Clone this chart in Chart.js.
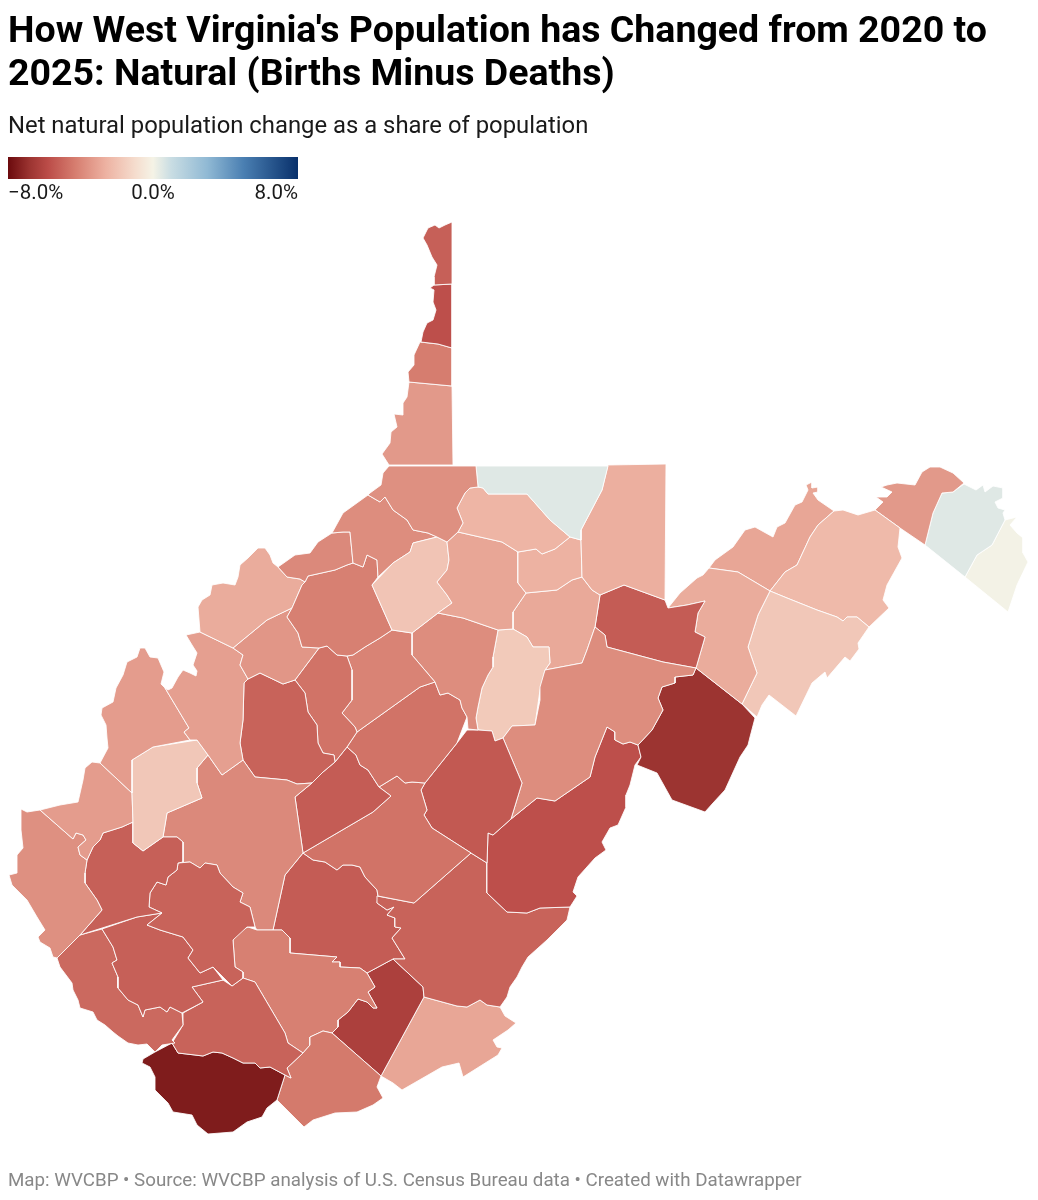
<!DOCTYPE html>
<html>
<head>
<meta charset="utf-8">
<title>West Virginia natural population change</title>
<script src="https://cdn.jsdelivr.net/npm/chart.js@4"></script>
<style>
  html, body { margin: 0; padding: 0; background: #fff; }
  body { position: relative; width: 1038px; height: 1200px; overflow: hidden; font-family: Roboto, sans-serif; }
  #map { position: absolute; left: 0; top: 0; width: 1038px; height: 1200px; }
  #title { position: absolute; left: 8px; top: 8px; margin: 0; width: 1028px; font-size: 37.5px; line-height: 43px; font-weight: 700; color: #000; }
  #subtitle { position: absolute; left: 8px; top: 110px; font-size: 23.85px; line-height: 30px; color: #1a1a1a; }
  #ramp { position: absolute; left: 8px; top: 157px; width: 290px; height: 22px; }
  .tick { position: absolute; top: 180px; font-size: 20.5px; line-height: 24px; color: #1a1a1a; }
  #footer { position: absolute; left: 8px; top: 1168px; font-size: 18.75px; line-height: 24px; color: #888; }
</style>
</head>
<body>
<div id="map"><canvas id="map-canvas"></canvas></div>
<h1 id="title">How West Virginia's Population has Changed from 2020 to<br>2025: Natural (Births Minus Deaths)</h1>
<div id="subtitle">Net natural population change as a share of population</div>
<div id="ramp"></div>
<div class="tick" style="left:8px">−8.0%</div>
<div class="tick" style="left:153px;transform:translateX(-50%)">0.0%</div>
<div class="tick" style="right:740px">8.0%</div>
<div id="footer">Map: WVCBP • Source: WVCBP analysis of U.S. Census Bureau data • Created with Datawrapper</div>
<script>
// county outlines in map units
const hancock = [[452,222],[445,225],[439,228],[435,225],[428,228],[423,238],[427,245],[432,257],[437,265],[434,277],[434,285],[452,284]];
const brooke = [[434,285],[452,284],[452,348],[438,344],[421,342],[423,332],[427,323],[433,320],[436,310],[433,302],[434,290],[430,288]];
const ohio = [[420,342],[438,344],[452,348],[452,386],[409,382],[408,372],[414,365],[414,355]];
const marshall = [[409,382],[452,386],[453,465],[389,465],[382,454],[390,443],[391,432],[397,427],[394,414],[403,415],[403,403],[407,397]];
const wetzel = [[389,466],[476,466],[478,487],[470,488],[465,493],[457,508],[463,523],[458,532],[447,542],[437,537],[428,533],[413,530],[407,520],[393,510],[385,497],[380,502],[368,495],[370,493],[381,485],[383,473]];
const monongalia = [[476,466],[608,466],[602,490],[581,530],[581,540],[570,537],[550,520],[527,494],[488,494],[483,488],[478,487]];
const marion = [[470,488],[478,487],[483,488],[488,494],[527,494],[550,520],[570,537],[555,549],[542,554],[536,549],[518,552],[502,542],[458,532],[463,523],[457,508],[465,493]];
const preston = [[608,465],[666,464],[665,600],[624,585],[600,595],[592,590],[582,577],[581,540],[581,530],[602,490]];
const taylor = [[518,552],[536,549],[542,554],[555,549],[570,537],[581,540],[582,577],[572,580],[557,590],[526,593],[518,583]];
const harrison = [[458,532],[502,542],[518,552],[518,583],[526,593],[513,612],[513,629],[498,630],[463,618],[438,613],[452,603],[447,595],[437,582],[447,570],[449,560],[447,542]];
const doddridge = [[447,542],[437,537],[413,543],[410,552],[393,563],[372,585],[392,630],[412,633],[438,613],[452,603],[447,595],[437,582],[447,570],[449,560]];
const tyler = [[368,495],[380,502],[385,497],[393,510],[407,520],[413,530],[428,533],[437,537],[413,543],[410,552],[393,563],[378,577],[377,560],[367,555],[363,567],[353,563],[350,532],[343,532],[332,533],[343,513]];
const pleasants = [[278,567],[295,555],[310,553],[318,542],[332,533],[343,532],[350,532],[353,563],[347,565],[335,570],[308,576],[305,582],[300,579],[287,577]];
const ritchie = [[308,576],[335,570],[347,565],[353,563],[363,567],[367,555],[377,560],[378,577],[372,585],[392,630],[380,638],[365,647],[353,655],[347,656],[337,655],[327,646],[319,648],[302,647],[298,633],[287,617],[292,608],[302,585],[305,582]];
const wood = [[278,567],[287,577],[300,579],[305,582],[302,585],[292,608],[267,620],[233,648],[200,632],[198,607],[202,600],[210,595],[212,585],[223,583],[235,585],[238,577],[240,565],[248,558],[258,548],[265,548],[270,555],[273,563]];
const wirt = [[292,608],[287,617],[298,633],[302,647],[319,648],[295,680],[283,684],[260,673],[248,679],[240,665],[243,655],[233,648],[267,620]];
const jackson = [[200,632],[233,648],[243,655],[240,665],[248,679],[244,683],[243,720],[240,743],[243,760],[222,775],[208,755],[197,740],[190,740],[184,732],[189,728],[165,688],[168,690],[172,688],[178,677],[183,670],[190,673],[196,676],[197,671],[193,665],[197,653],[192,645],[186,635]];
const mason = [[100,763],[108,748],[107,738],[106,725],[101,715],[102,708],[113,702],[116,688],[123,675],[127,662],[137,657],[140,648],[145,648],[150,657],[158,658],[164,672],[161,684],[165,688],[189,728],[184,732],[190,740],[153,747],[132,760],[132,793]];
const putnam = [[132,760],[153,747],[197,740],[208,755],[197,768],[197,783],[202,798],[167,813],[163,837],[143,851],[133,843],[133,822],[132,793]];
const cabell = [[100,763],[92,762],[85,768],[83,780],[78,802],[60,805],[40,810],[73,839],[76,833],[83,835],[86,840],[78,847],[80,855],[87,860],[93,847],[100,840],[103,833],[122,827],[133,822],[132,793]];
const wayne = [[21,809],[27,812],[40,810],[73,839],[76,833],[83,835],[86,840],[78,847],[80,855],[87,860],[85,873],[85,883],[97,900],[102,910],[80,935],[57,958],[53,957],[50,948],[40,942],[38,937],[45,930],[37,917],[27,900],[12,885],[9,875],[17,873],[17,855],[23,848],[21,830]];
const lincoln = [[87,860],[93,847],[100,840],[103,833],[122,827],[133,822],[133,843],[143,851],[163,837],[177,837],[183,842],[183,862],[178,863],[177,870],[168,877],[166,885],[157,882],[150,893],[149,907],[162,913],[137,917],[80,935],[102,910],[97,900],[85,883],[85,873]];
const boone = [[178,863],[190,862],[200,868],[205,863],[217,865],[220,873],[233,887],[243,893],[240,902],[250,907],[255,927],[247,927],[233,940],[235,967],[243,972],[243,978],[232,986],[213,967],[200,973],[188,958],[193,950],[183,937],[160,930],[147,925],[162,913],[149,907],[150,893],[157,882],[166,885],[168,877],[177,870]];
const logan = [[102,929],[113,947],[117,960],[112,963],[118,977],[118,988],[128,1000],[138,1005],[143,1017],[145,1010],[160,1007],[167,1012],[170,1007],[182,1013],[203,1002],[192,987],[223,980],[213,967],[200,973],[188,958],[193,950],[183,937],[160,930],[147,925],[162,913],[137,917]];
const mingo = [[57,958],[80,935],[102,929],[113,947],[117,960],[112,963],[118,977],[118,988],[128,1000],[138,1005],[143,1017],[145,1010],[160,1007],[167,1012],[170,1007],[182,1013],[183,1025],[172,1040],[175,1043],[162,1045],[155,1052],[147,1044],[138,1045],[128,1043],[118,1036],[113,1032],[105,1025],[97,1020],[93,1012],[80,1008],[78,1000],[73,990],[72,983],[60,967]];
const wyoming = [[183,1013],[203,1002],[192,987],[223,980],[232,986],[243,978],[255,982],[285,1033],[288,1043],[303,1053],[287,1068],[291,1078],[285,1075],[270,1067],[260,1068],[255,1063],[243,1063],[233,1058],[222,1053],[213,1052],[203,1056],[195,1055],[178,1053],[172,1043],[183,1025]];
const mcdowell = [[155,1052],[172,1043],[178,1053],[195,1055],[203,1056],[213,1052],[222,1053],[233,1058],[243,1063],[255,1063],[260,1068],[270,1067],[285,1075],[277,1100],[267,1108],[262,1117],[247,1122],[233,1132],[208,1134],[197,1125],[192,1115],[173,1112],[168,1103],[155,1090],[155,1077],[150,1067],[142,1063],[143,1059]];
const mercer = [[323,1031],[332,1033],[381,1076],[377,1087],[383,1098],[373,1105],[357,1112],[335,1113],[313,1120],[304,1127],[277,1100],[285,1075],[291,1078],[287,1068],[303,1053],[310,1045],[310,1037]];
const raleigh = [[233,940],[240,931],[248,927],[257,930],[273,930],[282,930],[290,938],[290,953],[337,957],[332,962],[340,962],[340,967],[360,968],[367,973],[375,987],[368,992],[377,1008],[373,1008],[367,1002],[358,999],[348,1012],[338,1020],[338,1027],[332,1033],[323,1031],[310,1037],[310,1045],[303,1053],[288,1043],[285,1033],[255,982],[243,978],[243,972],[235,967]];
const kanawha = [[208,755],[222,775],[243,760],[255,777],[287,780],[297,784],[312,783],[295,797],[303,853],[285,875],[273,930],[257,930],[255,927],[250,907],[240,902],[243,893],[233,887],[220,873],[217,865],[205,863],[200,868],[190,862],[178,863],[183,862],[183,842],[177,837],[163,837],[167,813],[202,798],[197,783],[197,768]];
const roane = [[244,683],[248,679],[260,673],[283,684],[295,680],[305,693],[308,712],[317,725],[318,743],[323,753],[334,755],[335,762],[323,772],[312,783],[297,784],[287,780],[255,777],[243,760],[240,743],[243,720]];
const calhoun = [[319,648],[327,646],[337,655],[347,656],[352,670],[352,700],[342,713],[355,727],[357,732],[347,747],[335,762],[334,755],[323,753],[318,743],[317,725],[308,712],[305,693],[295,680]];
const gilmer = [[347,656],[353,655],[365,647],[380,638],[392,630],[412,633],[412,655],[435,682],[420,687],[357,732],[355,727],[342,713],[352,700],[352,670]];
const lewis = [[412,633],[438,613],[463,618],[498,630],[493,657],[493,667],[488,675],[482,688],[478,707],[476,718],[478,730],[468,729],[467,717],[462,708],[460,700],[448,693],[440,695],[435,682],[412,655]];
const braxton = [[357,732],[420,687],[435,682],[440,695],[448,693],[460,700],[462,708],[467,717],[457,743],[425,783],[412,782],[405,783],[397,776],[379,787],[368,770],[360,765],[356,755],[347,747]];
const clay = [[347,747],[356,755],[360,765],[368,770],[379,787],[391,796],[373,812],[303,853],[295,797],[312,783],[323,772],[335,762]];
const nicholas = [[303,853],[373,812],[391,796],[379,787],[397,776],[405,783],[412,782],[425,783],[421,790],[427,810],[424,815],[432,828],[471,853],[414,903],[378,896],[377,890],[365,877],[360,867],[352,865],[343,865],[337,870],[325,862],[313,860]];
const webster = [[425,783],[457,743],[467,730],[478,730],[492,731],[495,741],[503,738],[522,783],[511,819],[493,835],[488,833],[487,863],[471,853],[432,828],[424,815],[427,810],[421,790]];
const randolph = [[545,670],[582,663],[587,650],[595,627],[605,635],[607,647],[663,662],[696,668],[693,675],[675,677],[675,683],[662,687],[658,698],[663,710],[652,730],[638,745],[630,742],[623,744],[615,740],[615,732],[607,727],[595,757],[590,777],[555,801],[537,798],[511,819],[522,783],[503,738],[512,726],[535,725],[540,700],[540,687]];
const upshur = [[498,630],[513,629],[527,637],[533,647],[549,647],[550,663],[545,670],[540,690],[535,725],[512,726],[503,738],[495,741],[492,731],[478,730],[476,718],[478,707],[482,688],[488,675],[493,667],[493,657]];
const barbour = [[526,593],[557,590],[572,580],[582,577],[592,590],[600,595],[595,627],[587,650],[582,663],[545,670],[550,663],[549,647],[533,647],[527,637],[513,629],[513,612]];
const tucker = [[600,595],[624,585],[665,600],[668,608],[687,605],[705,601],[698,613],[695,632],[705,637],[696,668],[663,662],[607,647],[605,635],[595,627]];
const grant = [[668,608],[680,593],[697,578],[703,575],[709,568],[738,572],[770,591],[758,615],[748,647],[757,673],[742,704],[696,668],[705,637],[695,632],[698,613],[705,601],[687,605]];
const pendleton = [[696,668],[742,704],[755,718],[750,737],[748,745],[740,757],[725,790],[713,803],[705,812],[672,800],[657,773],[637,765],[641,757],[638,745],[652,730],[663,710],[658,698],[662,687],[675,683],[675,677],[693,675]];
const pocahontas = [[607,727],[615,732],[615,740],[623,744],[630,742],[638,745],[641,757],[635,765],[630,785],[626,795],[626,807],[618,825],[610,828],[602,842],[606,850],[595,858],[578,877],[573,892],[577,896],[570,907],[540,908],[527,913],[507,912],[487,893],[487,863],[488,833],[493,835],[511,819],[537,798],[555,801],[590,777],[595,757]];
const greenbrier = [[377,896],[414,903],[471,853],[487,863],[487,893],[507,912],[527,913],[540,908],[570,907],[567,920],[547,940],[528,957],[522,967],[517,977],[510,987],[507,997],[500,1007],[487,1005],[480,1000],[467,1007],[457,1006],[424,997],[423,987],[393,959],[405,959],[392,938],[401,928],[395,927],[395,918],[387,915],[394,907],[387,910],[377,903]];
const fayette = [[303,853],[313,860],[325,862],[337,870],[343,865],[352,865],[360,867],[365,877],[377,890],[378,896],[377,903],[387,910],[394,907],[387,915],[395,918],[395,927],[401,928],[392,938],[405,959],[393,959],[367,973],[360,968],[340,967],[340,962],[332,962],[337,957],[290,953],[290,938],[282,930],[273,930],[285,875]];
const summers = [[367,973],[393,959],[423,987],[424,997],[381,1076],[332,1033],[338,1027],[338,1020],[348,1012],[358,999],[367,1002],[373,1008],[377,1008],[368,992],[375,987]];
const monroe = [[424,997],[457,1006],[467,1007],[480,1000],[487,1005],[500,1007],[505,1016],[516,1023],[508,1030],[493,1040],[497,1047],[502,1048],[498,1055],[463,1077],[459,1063],[442,1067],[402,1090],[393,1083],[381,1076]];
const hardy = [[770,591],[787,598],[817,610],[837,617],[843,621],[847,617],[857,617],[869,627],[858,643],[859,649],[850,661],[845,657],[827,678],[825,672],[812,683],[796,716],[769,695],[762,705],[757,717],[742,704],[757,673],[748,647],[758,615]];
const hampshire = [[770,591],[785,572],[797,565],[810,537],[818,525],[834,511],[843,510],[858,515],[875,510],[900,528],[898,547],[902,558],[887,585],[883,600],[889,608],[869,627],[857,617],[847,617],[843,621],[837,617],[817,610],[787,598]];
const mineral = [[709,568],[715,560],[733,547],[745,530],[755,527],[773,537],[777,527],[785,523],[795,505],[802,502],[808,490],[806,485],[812,482],[812,488],[818,487],[818,492],[813,493],[818,500],[834,511],[818,525],[810,537],[797,565],[785,572],[770,591],[738,572]];
const morgan = [[875,510],[883,502],[876,497],[887,497],[892,492],[881,487],[887,485],[897,483],[915,485],[922,472],[930,467],[940,467],[953,473],[964,483],[953,492],[942,493],[933,513],[925,545],[900,528]];
const berkeley = [[925,545],[933,513],[942,493],[953,492],[964,484],[976,490],[983,485],[985,492],[993,486],[1003,488],[1003,498],[995,502],[998,508],[1005,510],[1003,513],[1005,520],[992,545],[977,555],[965,577]];
const jefferson = [[1005,520],[1017,517],[1010,525],[1017,533],[1023,538],[1023,553],[1028,562],[1017,585],[1008,612],[965,577],[977,555],[992,545]];

const countyNames = ["Hancock","Brooke","Ohio","Marshall","Wetzel","Monongalia","Marion","Preston","Taylor","Harrison","Doddridge","Tyler","Pleasants","Ritchie","Wood","Wirt","Jackson","Mason","Putnam","Cabell","Wayne","Lincoln","Boone","Logan","Mingo","Wyoming","McDowell","Mercer","Raleigh","Kanawha","Roane","Calhoun","Gilmer","Lewis","Braxton","Clay","Nicholas","Webster","Randolph","Upshur","Barbour","Tucker","Grant","Pendleton","Pocahontas","Greenbrier","Fayette","Summers","Monroe","Hardy","Hampshire","Mineral","Morgan","Berkeley","Jefferson"];
const countyOutlines = [hancock,brooke,ohio,marshall,wetzel,monongalia,marion,preston,taylor,harrison,doddridge,tyler,pleasants,ritchie,wood,wirt,jackson,mason,putnam,cabell,wayne,lincoln,boone,logan,mingo,wyoming,mcdowell,mercer,raleigh,kanawha,roane,calhoun,gilmer,lewis,braxton,clay,nicholas,webster,randolph,upshur,barbour,tucker,grant,pendleton,pocahontas,greenbrier,fayette,summers,monroe,hardy,hampshire,mineral,morgan,berkeley,jefferson];
// net natural change, percent of population (estimated from the fill colours)
const countyChange = [-5.2,-5.7,-4.3,-3.4,-3.7,0.5,-2.5,-2.7,-2.6,-3.0,-1.9,-3.8,-3.9,-4.2,-2.8,-3.5,-3.2,-3.3,-1.8,-3.3,-3.7,-5.2,-5.1,-5.2,-4.9,-5.1,-7.5,-4.4,-4.2,-3.9,-5.1,-4.6,-4.1,-3.8,-4.6,-5.3,-4.6,-5.4,-3.8,-1.7,-2.9,-5.3,-2.8,-6.8,-5.7,-5.1,-5.3,-6.3,-3.0,-1.8,-2.3,-3.0,-3.4,0.5,0.05];

const rampValues = [-8,-6.8,-5.8,-4.3,-2.6,-1,0,1,3,5,8];
const rampColors = ["#6b0a0d","#9c3431","#bb4c48","#d67d6f","#edb2a2","#f5dccd","#f5f3e6","#c9dde3","#90b9d4","#4a7fb2","#08306b"];

function hexToRgb(hex) {
  return [1, 3, 5].map((start) => parseInt(hex.slice(start, start + 2), 16));
}

function colorFor(value) {
  let index = 0;
  while (index < rampValues.length - 2 && value > rampValues[index + 1]) {
    index += 1;
  }
  const share = (value - rampValues[index]) / (rampValues[index + 1] - rampValues[index]);
  const low = hexToRgb(rampColors[index]);
  const high = hexToRgb(rampColors[index + 1]);
  const mixed = low.map((channel, i) => Math.round(channel + (high[i] - channel) * share));
  return `rgb(${mixed.join(",")})`;
}

const rampStops = rampValues.map((value, i) => `${rampColors[i]} ${((value + 8) / 16) * 100}%`);
document.getElementById("ramp").style.background = `linear-gradient(to right, ${rampStops.join(", ")})`;

new Chart(document.getElementById("map-canvas"), {
  type: "scatter",
  data: {
    datasets: countyNames.map((name, i) => {
      const outline = countyOutlines[i];
      return {
        label: name,
        data: [...outline, outline[0]].map(([x, y]) => ({ x, y })),
        showLine: true,
        fill: "shape",
        backgroundColor: colorFor(countyChange[i]),
        borderColor: "rgba(255, 255, 255, 0.85)",
        borderWidth: 1,
        borderJoinStyle: "round",
        tension: 0,
        pointRadius: 0,
        pointHitRadius: 0,
      };
    }),
  },
  options: {
    responsive: true,
    maintainAspectRatio: false,
    animation: false,
    events: [],
    layout: { padding: 0 },
    scales: {
      x: { type: "linear", display: false, min: 0, max: 1038 },
      y: { type: "linear", display: false, min: 0, max: 1200, reverse: true },
    },
    plugins: {
      legend: { display: false },
      tooltip: { enabled: false },
    },
  },
});
</script>
</body>
</html>
